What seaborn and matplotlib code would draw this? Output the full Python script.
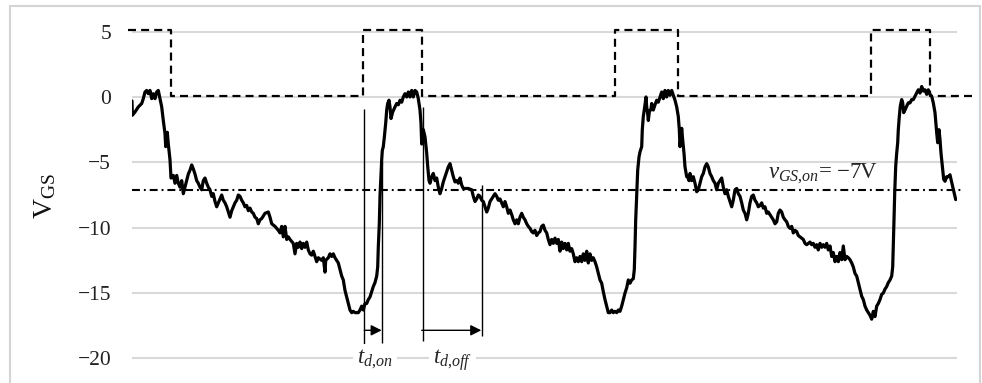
import matplotlib
matplotlib.use("Agg")
import matplotlib.pyplot as plt
import seaborn as sns
import pandas as pd
from matplotlib.patches import Rectangle

# ---------------- data (time in arbitrary units, V_GS in volts) ----------------
seg1 = [(0,-0.3),(0.3,-1.4),(3,-1.15),(6.3,-0.76),(9.7,-0.5),(11.3,-0.13),(13,0.38),(14.7,0.5),(16.3,0.25),(18,0.5),
        (19.7,-0.13),(21.3,0.25),(23,-0.13),(24.7,0.38),(26.3,0.5),(28,-0.13),(29.7,-0.76),(31.3,-1.8),(33,-2.8),(33.7,-3.8),
        (35.3,-2.7),(36.3,-3.6),(38,-4.8),(39,-6.2),(41.3,-6.0),(43,-6.6),(44.7,-6.0),(46.3,-6.6),(48,-6.9),(49.7,-6.4),
        (51.3,-7.4),(53,-6.9),(54.7,-6.4),(56.3,-5.9),(58,-5.6),(59.7,-5.2),(61.3,-5.5),(63,-5.9),(64.7,-6.4),(66.3,-6.6),
        (68,-6.9),(69.7,-7.1),(71.3,-6.4),(73,-6.2),(74.7,-6.6),(76.3,-6.9),(78,-7.1),(79.7,-7.6),(81.3,-7.4),(83,-8.0),
        (84.7,-8.4),(86.3,-8.1),(88,-7.8),(89.7,-7.5),(91.3,-7.9),(93,-8.1),(94.7,-8.4),(96.3,-8.8),(98,-9.2),(99.7,-8.7),
        (101.3,-8.4),(103,-8.1),(104.7,-7.9),(106.3,-7.5),(108,-7.6),(109.7,-7.9),(111.3,-8.1),(113,-8.4),(114.7,-8.3),
        (116.3,-8.7),(118,-8.5),(119.7,-8.8),(121.3,-8.9),(123,-9.2),(124.7,-9.3),(126.3,-9.7),(128,-9.4),(129.7,-9.3)]

seg2 = [(133,-8.9),(136.3,-8.8),(138,-9.2),(139.7,-9.7),(143,-9.9),(146.3,-10.2),(148,-10.4),(149.7,-9.9),(151.3,-10.7),
        (153,-9.9),(154.7,-10.9),(156.3,-10.7),(158,-10.9),(161.3,-11.2),(163,-12.0),(164.7,-11.2),(166.3,-11.5),(168,-11.1),
        (169.7,-11.6),(171.3,-11.2),(173,-11.5),(174.7,-11.1),(176.3,-11.7),(178,-12.0),(179.7,-12.1),(181.3,-11.8),
        (183,-12.2),(184.7,-12.6),(186.3,-12.3),(189.7,-12.5),(191.3,-12.3),(193,-13.4),(193.7,-12.5),(196.3,-12.3),
        (198,-12.0),(199.7,-12.2),(201.3,-12.0),(203,-12.3),(204.7,-12.5),(206.3,-12.7),(208,-13.2),(209.7,-13.7),
        (211.3,-14.0),(213,-14.8),(214.7,-15.3),(216.3,-15.8),(218,-16.3),(219.7,-16.5),(221.3,-16.4),(223,-16.5),
        (224.7,-16.5),(226.3,-16.5),(228,-16.3),(229.7,-16.0),(231.3,-16.3),(233,-15.8),(234.7,-15.8),(236.3,-15.5),
        (238,-15.3),(239.7,-14.9),(241.3,-14.5),(243,-14.2),(244.7,-13.7),(245.7,-13.0),(246.3,-11.5),(247.3,-9.7),
        (248,-7.6),(249,-5.9),(249.7,-4.8),(250.3,-4.1),(251.3,-3.8),(252.3,-3.1),(253.7,-2.0),(254.7,-1.0),(255.7,-0.5),
        (257,-0.25),(258,-0.76),(259,-1.65),(260.7,-1.15),(263,-0.76),(264.7,-0.5),(266.3,-0.6),(268,-0.25),(269.7,-0.4),
        (271.3,0.0),(273,0.25),(274.7,0.0)]

seg3 = [(276.3,0.38),(278,0.0),(279.7,0.5),(281.3,0.0),(283,0.5),(284.7,0.38),(286.3,-0.13),(288,-1.0),(289,-2.0),
        (289.7,-3.6),(291.3,-2.5),(293,-3.05),(294.7,-4.3),(295.7,-5.3),(297,-6.4),(298,-6.6),(299.7,-6.1),(301.3,-5.85),
        (303,-6.4),(304.7,-6.2),(306.3,-6.9),(308,-7.4),(309.7,-7.0),(311.3,-6.5),(313,-6.1),(314.7,-5.7),(316.3,-5.35),
        (318,-5.1),(319.7,-5.6),(321.3,-6.1),(323,-6.5),(324.7,-6.4),(326.3,-6.6),(328,-6.2),(329.7,-6.75),(331.3,-7.0),
        (333,-7.0),(336.3,-7.0),(339.7,-7.1),(341.3,-7.6),(343,-8.0),(344.7,-7.8),(346.3,-7.5),(348,-7.6),(349.7,-7.9),
        (351.3,-8.0),(353,-8.4),(354.7,-8.8),(356.3,-8.5),(358,-8.0),(359.7,-7.8),(361.3,-7.6),(363,-7.4),(364.7,-7.6),
        (366.3,-7.9),(368,-7.8),(369.7,-8.1),(371.3,-8.4),(373,-8.0),(374.7,-8.4),(376.3,-8.9),(378,-8.65),(379.7,-9.0),
        (381.3,-9.4),(383,-9.7),(384.7,-9.4),(386.3,-9.7),(388,-9.2),(389.7,-8.9),(391.3,-9.2),(393,-9.4),(394.7,-9.7),
        (396.3,-9.9),(398,-10.05),(399.7,-10.3),(401.3,-10.4),(403,-10.2),(404.7,-10.6),(406.3,-10.4),(408,-10.3),
        (409.7,-9.9),(411.3,-9.8),(413,-10.2),(414.7,-10.4),(416.3,-10.9)]

seg4 = [(418,-11.3),(419.7,-10.9),(421.3,-11.2),(423,-10.8),(424.7,-11.2),(426.3,-10.9),(428,-11.8),(429.7,-11.1),
        (431.3,-11.6),(433,-11.2),(434.7,-11.7),(436.3,-11.2),(438,-11.8),(439.7,-11.6),(441.3,-12.0),(443,-12.6),
        (444.7,-12.3),(446.3,-12.6),(448,-12.2),(449.7,-12.6),(451.3,-12.0),(453,-12.5),(454.7,-11.8),(456.3,-12.7),
        (458,-12.0),(459.7,-12.5),(461.3,-12.3),(463,-12.6),(464.7,-13.0),(466.3,-13.5),(468,-14.0),(469.7,-14.25),
        (471.3,-14.9),(473,-15.5),(474.7,-16.0),(476.3,-16.5),(478,-16.5),(479.7,-16.3),(481.3,-16.5),(483,-16.4),
        (484.7,-16.5),(486.3,-16.3),(488,-16.4),(489.7,-16.0),(491.3,-15.5),(493,-15.0),(494.7,-14.6),(496.3,-14.0),
        (498,-14.25),(499.7,-14.0),(501.3,-13.9),(502.3,-13.2),(503,-11.5),(503.7,-9.4),(504.7,-7.4),(505.7,-5.6),
        (507,-4.6),(508,-4.2),(509.7,-3.8),(510.3,-2.5),(511.3,-1.5),(513,-0.6),(514,0.0),(514.7,-0.76),(515.7,-1.3),
        (516.3,-1.8),(517.3,-1.15),(519,-0.9),(519.7,-0.5),(521.3,-1.0),(523,-0.6),(524.7,-0.25),(526.3,-0.4),(528,0.0),
        (529.7,0.38),(531.3,-0.13),(533,0.5),(534.7,0.0),(536.3,0.5),(538,0.13),(539.7,0.5),(541.3,0.13),(543,-0.25),
        (544.7,-0.76),(546.3,-1.5),(547.3,-2.5),(548,-3.8),(549,-3.05),(549.7,-2.4),(550.7,-3.3),(552,-4.3),(553,-5.35),
        (554.7,-6.1)]

seg5 = [(555.7,-6.1),(557,-6.4),(558,-5.85),(559.7,-6.4),(561.3,-6.1),(563,-6.6),(564.7,-7.25),(566.3,-7.1),(568,-6.6),
        (569.7,-6.1),(571.3,-5.85),(573,-5.35),(574.7,-5.1),(576.3,-5.35),(578,-5.85),(579.7,-6.1),(581.3,-6.4),(583,-6.6),
        (584.7,-7.1),(586.3,-6.6),(588,-6.4),(589.7,-6.2),(591.3,-6.9),(593,-7.4),(594.7,-7.1),(596.3,-7.6),(598,-8.0),
        (599.7,-8.4),(601.3,-7.9),(603,-7.1),(604.7,-7.0),(606.3,-7.4),(608,-7.6),(609.7,-8.1),(611.3,-8.65),(613,-8.9),
        (614.7,-9.4),(616.3,-8.9),(618,-8.1),(619.7,-7.6),(621.3,-7.5),(623,-7.9),(624.7,-8.1),(626.3,-8.4),(628,-8.3),
        (629.7,-8.1),(631.3,-8.5),(633,-8.4),(634.7,-8.9),(636.3,-8.8),(638,-9.0),(639.7,-9.2),(641.3,-9.4),(643,-9.7),
        (644.7,-9.55),(646.3,-8.9),(648,-8.65),(649.7,-8.8),(651.3,-9.2),(653,-9.4),(654.7,-9.55),(656.3,-9.9),
        (658,-10.05),(659.7,-9.9),(661.3,-10.4),(663,-10.2),(664.7,-10.3),(666.3,-10.6),(668,-10.7),(669.7,-10.8),
        (671.3,-10.9),(673,-11.2),(674.7,-11.3),(676.3,-11.2),(678,-11.1),(679.7,-11.3),(681.3,-11.2),(683,-11.5),
        (684.7,-11.3),(686.3,-11.7),(688,-11.2),(689.7,-11.5),(691.3,-11.3),(693,-11.5),(694.7,-11.2),(696.3,-11.7)]

seg6 = [(698,-11.4),(699.7,-12.2),(701.3,-11.9),(703,-12.6),(704.7,-12.2),(706.3,-12.6),(708,-11.9),(709.7,-12.45),
        (711.3,-11.4),(713,-12.45),(714.7,-12.2),(716.3,-12.3),(718,-12.45),(719.7,-12.7),(721.3,-13.0),(723,-13.5),
        (724.7,-13.7),(726.3,-14.2),(728,-14.7),(729.7,-15.25),(731.3,-15.5),(733,-16.0),(734.7,-16.3),(736.3,-16.5),
        (738,-16.7),(739.7,-17.0),(741.3,-16.4),(743,-16.8),(744.7,-16.0),(746.3,-15.8),(748,-15.5),(749.7,-15.1),
        (751.3,-15.0),(753,-14.7),(754.7,-14.5),(756.3,-14.2),(758,-14.0),(759.7,-13.7),(760.7,-13.0),(761.3,-11.4),
        (762,-9.4),(762.7,-7.35),(763.7,-5.3),(764.7,-4.3),(765.7,-3.5),(766.3,-2.5),(767.3,-1.5),(768.3,-0.7),
        (769.7,-0.2),(770.7,-0.45),(771.7,-1.2),(773,-1.0),(774.7,-0.7),(776.3,-0.45),(778,-0.45),(779.7,-0.2),
        (781.3,-0.2),(783,0.05),(784.7,0.3),(786.3,0.55),(788,0.3),(789.7,0.8),(791.3,0.45),(793,0.55),(794.7,0.2),
        (796.3,0.55),(798,0.2),(799.7,0.05),(801.3,-0.45),(803,-1.2),(804.7,-2.75),(805.7,-3.5),(807,-2.5),(808,-3.25),
        (809,-4.3),(810.3,-5.3),(811.7,-6.3),(813,-6.45),(814.7,-6.1),(816.3,-6.1),(818,-5.95),(819,-6.3),(820.7,-6.85),
        (821.7,-7.2),(823,-7.6),(823.7,-7.85)]

# gate command (dashed)
gate_t = [-4, 38.7, 38.7, 230.7, 230.7, 290.3, 290.3, 483, 483, 545.7, 545.7, 738.7, 738.7, 798, 798, 845]
gate_v = [5.15, 5.15, 0.05, 0.05, 5.15, 5.15, 0.05, 0.05, 5.15, 5.15, 0.05, 0.05, 5.15, 5.15, 0.05, 0.05]

# threshold line
v_on = -7.1
thr_t = [0, 831]

# delay markers
marker_t = [232.3, 249.7, 290.7, 350.3]
marker_top = [-0.9, -5.0, -0.8, -6.7]
marker_bottom = [-19.0, -18.8, -18.7, -18.3]
arrow_v = -17.85
arrow_on = (232.3, 249.7)
arrow_off = (289.7, 349.3)

yticks = [-20, -15, -10, -5, 0, 5]

# ---------------- style ----------------
sns.set_theme(style="white")
plt.rcParams["font.family"] = ["Liberation Serif", "DejaVu Serif"]
plt.rcParams["mathtext.fontset"] = "custom"
plt.rcParams["mathtext.rm"] = "Liberation Serif"
plt.rcParams["mathtext.it"] = "Liberation Serif:italic"
plt.rcParams["axes.unicode_minus"] = True

fig = plt.figure(figsize=(9.82, 3.83), dpi=100)
ax = fig.add_axes([132 / 982, 1 - 372 / 383, (957 - 132) / 982, 360 / 383])

wave = pd.DataFrame(seg1 + seg2 + seg3 + seg4 + seg5 + seg6, columns=["t", "v"])
sns.lineplot(data=wave, x="t", y="v", estimator=None, sort=False, color="black", lw=2.3, ax=ax)

gate = pd.DataFrame({"t": gate_t, "v": gate_v})
sns.lineplot(data=gate, x="t", y="v", estimator=None, sort=False, color="black", lw=1.6, ax=ax)
gl = ax.lines[-1]
gl.set_dashes([3.6, 2.3])
gl.set_clip_on(False)

thr = pd.DataFrame({"t": thr_t, "v": [v_on, v_on]})
sns.lineplot(data=thr, x="t", y="v", estimator=None, sort=False, color="black", lw=1.5, ax=ax)
tl = ax.lines[-1]
tl.set_dashes([3.8, 1.9, 0.9, 1.9])
tl.set_clip_on(False)

ax.vlines(marker_t, marker_bottom, marker_top, color="black", lw=1.0)
for (a, b) in (arrow_on, arrow_off):
    ax.annotate("", xy=(b, arrow_v), xytext=(a, arrow_v),
                arrowprops=dict(arrowstyle="-|>", color="black", lw=1.0, mutation_scale=16,
                                shrinkA=0, shrinkB=0))

ax.text(225, -20.1, r"$t_{d{,}on}$", fontsize=16.5, ha="left", va="center",
        bbox=dict(fc="white", ec="none", pad=3))
ax.text(301, -20.1, r"$t_{d{,}off}$", fontsize=16.5, ha="left", va="center",
        bbox=dict(fc="white", ec="none", pad=3))
ax.text(636, -5.9, r"$v_{GS{,}on}$= −7V", fontsize=16.5, ha="left", va="center")

ax.set_xlim(0, 825)
ax.set_ylim(-21.04, 6.5)
ax.set_yticks(yticks)
ax.set_xticks([])
ax.grid(axis="y", color="#d9d9d9", lw=1.5)
ax.grid(axis="x", visible=False)
ax.set_axisbelow(True)
for s in ax.spines.values():
    s.set_visible(False)
ax.tick_params(axis="y", length=0, pad=15, labelsize=15.5, labelcolor="#222222")
ax.set_xlabel("")
ax.set_ylabel(r"$\mathrm{V}_{\mathrm{GS}}$", fontsize=20, color="#111111")
ax.yaxis.set_label_coords(-0.09, 0.49)

fig.patches.append(Rectangle((10 / 982, -0.02), 970 / 982, 1.004, transform=fig.transFigure,
                             fill=False, ec="#d4d4d4", lw=1.5))

fig.savefig("out.png", dpi=100)
